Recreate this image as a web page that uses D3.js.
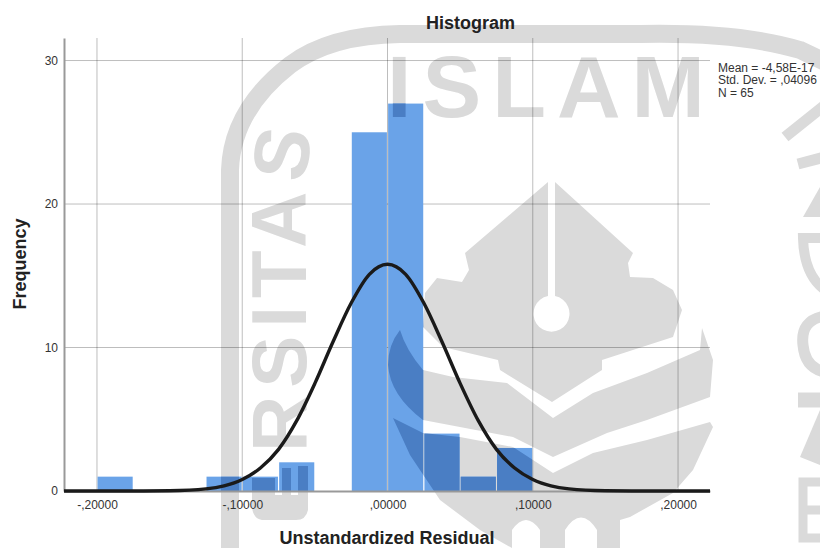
<!DOCTYPE html>
<html>
<head>
<meta charset="utf-8">
<script src="https://cdn.jsdelivr.net/npm/d3@7"></script>
<style>
  html, body { margin: 0; padding: 0; background: #fff; }
  svg { display: block; font-family: "Liberation Sans", Arial, sans-serif; }
</style>
</head>
<body>
<svg id="chart"></svg>
<script>
const binStarts = [-0.2, -0.125, -0.1, -0.075, -0.025, 0, 0.025, 0.05, 0.075];
const binCounts = [1, 1, 1, 2, 25, 27, 4, 1, 3];
const binWidth = 0.025;

const curveX = [-0.2227, -0.2, -0.175, -0.15, -0.125, -0.1125, -0.1, -0.0875, -0.075, -0.0625, -0.05, -0.0375, -0.025, -0.0125, 0, 0.0125, 0.025, 0.0375, 0.05, 0.0625, 0.075, 0.0875, 0.1, 0.1125, 0.125, 0.15, 0.175, 0.2, 0.222];
const curveY = [0, 0, 0, 0.02, 0.15, 0.36, 0.8, 1.6, 2.9, 4.9, 7.5, 10.4, 13.1, 15.1, 15.8, 15.1, 13.1, 10.4, 7.5, 4.9, 2.9, 1.6, 0.8, 0.36, 0.15, 0.02, 0, 0, 0];

const xTicks = [-0.2, -0.1, 0, 0.1, 0.2];
const xTickLabels = ["-,20000", "-,10000", ",00000", ",10000", ",20000"];
const yTicks = [0, 10, 20, 30];
const statLines = ["Mean = -4,58E-17", "Std. Dev. = ,04096", "N = 65"];

const width = 820;
const height = 548;
const plotLeft = 64;
const plotRight = 710;
const plotTop = 38;
const plotBottom = 491;

const barColor = "#6aa3e8";
const barOnMark = "#4a7ec4";
const markColor = "#dadada";

// background stamp, traced by eye
const stampFills = [
  "M548,182 L465,253 469,270 462,282 437,278 425,293 423,327 443,347 498,360 500,370 552,402 602,370 602,360 673,337 682,310 673,290 653,278 630,277 628,263 633,253 555,182 555,296 A18,18 0 1 1 548,296 Z",
  "M400,330 Q388,345 388,365 Q390,395 423,420 L513,437 553,457 607,433 647,420 710,397 713,360 702,328 700,350 647,373 593,393 553,418 507,383 453,377 423,370 Q406,350 400,330 Z",
  "M393,418 L423,433 460,437 513,447 553,473 593,453 647,440 710,422 713,427 693,470 673,493 630,517 620,520 620,548 597,548 597,530 Q581,505 565,530 L565,548 540,548 540,530 Q526,510 512,530 L512,548 480,530 440,500 410,455 Z",
  "M803,217 L820,187 820,217 Z",
  "M800,457 L820,410 820,465 Z",
  // the E of the curved word
  "M252,478 L275,478 275,495 282,495 282,468 291,468 291,495 298,495 298,466 308,466 308,510 Q306,520 296,520 L262,520 Q252,518 252,505 Z"
];
const stampStrokes = [
  { d: "M230,548 L230,170 Q232,110 290,65 Q330,35 400,34 L640,34 Q740,32 800,50 L825,62", w: 18 },
  { d: "M785,137 L825,105", w: 11 },
  { d: "M798,164 L825,157", w: 11 },
  { d: "M825,238 L803,238 Q804,275 825,290", w: 10 },
  { d: "M825,316 Q800,320 803,345 Q805,368 825,372", w: 11 },
  { d: "M798,400 L825,400", w: 15 },
  { d: "M825,482 L803,482 L803,538 L825,538 M803,510 L825,510", w: 9 }
];

const x = d3.scaleLinear().domain([-0.2227, 0.222]).range([plotLeft, plotRight]);
const y = d3.scaleLinear().domain([0, 31.57]).range([plotBottom, plotTop]);

const svg = d3.select("#chart").attr("width", width).attr("height", height);
const defs = svg.append("defs");

const stamp = defs.append("g").attr("id", "stamp");
stamp.selectAll("path.fill")
  .data(stampFills)
  .join("path")
  .attr("class", "fill")
  .attr("d", (d) => d)
  .attr("fill", "currentColor")
  .attr("fill-rule", "evenodd");
stamp.selectAll("path.line")
  .data(stampStrokes)
  .join("path")
  .attr("class", "line")
  .attr("d", (d) => d.d)
  .attr("fill", "none")
  .attr("stroke", "currentColor")
  .attr("stroke-width", (d) => d.w);
stamp.append("text")
  .attr("x", 387)
  .attr("y", 117)
  .attr("fill", "currentColor")
  .attr("font-size", 88)
  .attr("font-weight", "bold")
  .attr("letter-spacing", 11)
  .text("ISLAM");
defs.append("path")
  .attr("id", "stampArc")
  .attr("d", "M306,452 L306,200 Q306,150 318,120");
stamp.append("text")
  .attr("fill", "currentColor")
  .attr("font-size", 78)
  .attr("font-weight", "bold")
  .attr("letter-spacing", 8)
  .append("textPath")
  .attr("href", "#stampArc")
  .text("RSITAS");

const binRect = (sel) =>
  sel
    .attr("x", (d, i) => x(binStarts[i]) + 0.6)
    .attr("y", (d) => y(d))
    .attr("width", (d, i) => x(binStarts[i] + binWidth) - x(binStarts[i]) - 1.2)
    .attr("height", (d) => y(0) - y(d));

defs.append("clipPath")
  .attr("id", "barClip")
  .selectAll("rect")
  .data(binCounts)
  .join("rect")
  .call(binRect);

svg.append("use").attr("href", "#stamp").attr("color", markColor);

// grid
const gridGroup = svg.append("g").attr("stroke", "#000").attr("stroke-opacity", 0.26);
gridGroup.selectAll("line.v")
  .data(xTicks)
  .join("line")
  .attr("class", "v")
  .attr("x1", (d) => x(d))
  .attr("x2", (d) => x(d))
  .attr("y1", plotTop)
  .attr("y2", plotBottom);
gridGroup.selectAll("line.h")
  .data(yTicks.slice(1))
  .join("line")
  .attr("class", "h")
  .attr("x1", plotLeft)
  .attr("x2", plotRight)
  .attr("y1", (d) => y(d))
  .attr("y2", (d) => y(d));

svg.append("g")
  .selectAll("rect")
  .data(binCounts)
  .join("rect")
  .attr("fill", barColor)
  .call(binRect);

svg.append("use")
  .attr("href", "#stamp")
  .attr("color", barOnMark)
  .attr("clip-path", "url(#barClip)");

// axes
const xAxis = d3.axisBottom(x)
  .tickValues(xTicks)
  .tickFormat((d, i) => xTickLabels[i])
  .tickSize(0)
  .tickPadding(9);
const yAxis = d3.axisLeft(y)
  .tickValues(yTicks)
  .tickSize(0)
  .tickPadding(6);

const styleAxis = (g) => {
  g.select(".domain").attr("stroke", "#999").attr("stroke-width", 2);
  g.selectAll("text")
    .attr("fill", "#333")
    .style("font-size", "12px")
    .style("font-family", '"Liberation Sans", Arial, sans-serif');
};

svg.append("g")
  .attr("transform", `translate(0,${plotBottom})`)
  .call(xAxis)
  .call(styleAxis);
svg.append("g")
  .attr("transform", `translate(${plotLeft},0)`)
  .call(yAxis)
  .call(styleAxis);

const line = d3.line()
  .x((d, i) => x(curveX[i]))
  .y((d) => y(d))
  .curve(d3.curveMonotoneX);

svg.append("path")
  .datum(curveY)
  .attr("d", line)
  .attr("fill", "none")
  .attr("stroke", "#1a1a1a")
  .attr("stroke-width", 3.4);

// labels
svg.append("text")
  .attr("x", 470.5)
  .attr("y", 29)
  .attr("text-anchor", "middle")
  .attr("font-size", 18)
  .attr("font-weight", "bold")
  .attr("fill", "#222")
  .text("Histogram");

svg.append("text")
  .attr("x", 387)
  .attr("y", 544)
  .attr("text-anchor", "middle")
  .attr("font-size", 18)
  .attr("font-weight", "bold")
  .attr("fill", "#222")
  .text("Unstandardized Residual");

svg.append("text")
  .attr("transform", "translate(26,264) rotate(-90)")
  .attr("text-anchor", "middle")
  .attr("font-size", 18)
  .attr("font-weight", "bold")
  .attr("fill", "#222")
  .text("Frequency");

svg.append("g")
  .selectAll("text")
  .data(statLines)
  .join("text")
  .attr("x", 718)
  .attr("y", (d, i) => 72 + i * 12.4)
  .attr("font-size", 12)
  .attr("fill", "#333")
  .text((d) => d);
</script>
</body>
</html>
